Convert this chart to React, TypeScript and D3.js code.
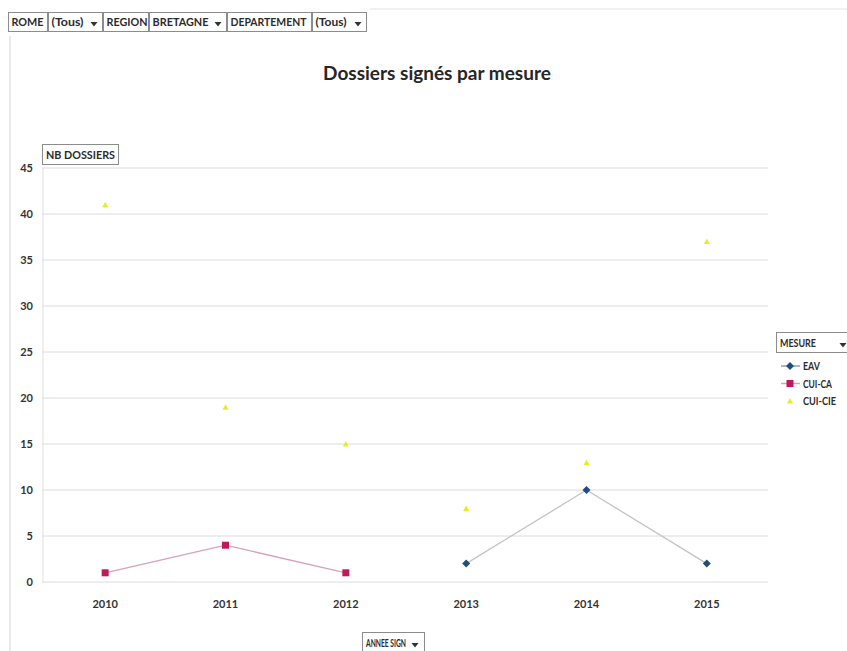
import React from "react";
import * as d3 from "d3";

const years = ["2010", "2011", "2012", "2013", "2014", "2015"];
const eav: (number | null)[] = [null, null, null, 2, 10, 2];
const cuiCa: (number | null)[] = [1, 4, 1, null, null, null];
const cuiCie: (number | null)[] = [41, 19, 15, 8, 13, 37];
const yTicks = [0, 5, 10, 15, 20, 25, 30, 35, 40, 45];
const filters = [
  { label: "ROME", arrow: false },
  { label: "(Tous)", arrow: true },
  { label: "REGION", arrow: false },
  { label: "BRETAGNE", arrow: true },
  { label: "DEPARTEMENT", arrow: false },
  { label: "(Tous)", arrow: true },
];
const filterWidths = [39, 54, 45, 77, 84, 54];
const filterTextLen = [32, 32, 41, 56, 76, 31];
const legendItems = ["EAV", "CUI-CA", "CUI-CIE"];
const legendTextLen = [17, 29, 33];

const W = 847;
const H = 651;
const FONT = "Lato, 'Open Sans', sans-serif";

export default function App() {
  const x = d3.scaleBand<string>().domain(years).range([45, 767]);
  const y = d3.scaleLinear().domain([0, 45]).range([582, 168]);
  const cx = (d: string) => (x(d) as number) + x.bandwidth() / 2;

  const mkLine = (vals: (number | null)[]) =>
    d3
      .line<number | null>()
      .defined((d) => d !== null)
      .x((_, i) => cx(years[i]))
      .y((d) => y(d as number))(vals) as string;

  let fx = 8;
  const filterBoxes = filters.map((f, i) => {
    const bx = fx;
    fx += filterWidths[i] + 1;
    return { ...f, x: bx, w: filterWidths[i], tl: filterTextLen[i] };
  });

  const arrow = (ax: number, ay: number) => (
    <path d={`M${ax - 3.5},${ay - 2} L${ax + 3.5},${ay - 2} L${ax},${ay + 2.5} Z`} fill="#333" />
  );

  const diamond = (px: number, py: number, c: string, k: string) => (
    <path key={k} d={`M${px},${py - 4} L${px + 4},${py} L${px},${py + 4} L${px - 4},${py} Z`} fill={c} />
  );
  const square = (px: number, py: number, c: string, k: string) => (
    <rect key={k} x={px - 3.5} y={py - 3.5} width={7} height={7} fill={c} />
  );
  const tri = (px: number, py: number, c: string, k: string) => (
    <path key={k} d={`M${px},${py - 3} L${px + 3},${py + 2.5} L${px - 3},${py + 2.5} Z`} fill={c} />
  );

  const EAV_C = "#1f4e79";
  const CA_C = "#c2185b";
  const CIE_C = "#e4ef1c";

  const lbl = (tx: number, ty: number, s: string, len: number) => (
    <text
      x={tx}
      y={ty}
      fontSize={11}
      fontWeight={700}
      fill="#2b2b2b"
      textLength={len}
      lengthAdjust="spacingAndGlyphs"
    >
      {s}
    </text>
  );

  return (
    <svg width={W} height={H} style={{ position: "absolute", left: 0, top: 0 }} fontFamily={FONT}>
      <rect width={W} height={H} fill="#fff" />
      {/* chart border */}
      <line x1={370} x2={W} y1={9} y2={9} stroke="#e3e3e3" />
      <line x1={10} x2={10} y1={36} y2={H} stroke="#d6d6d6" />

      {/* filter bar */}
      {filterBoxes.map((f, i) => (
        <g key={i}>
          <rect x={f.x + 0.5} y={12.5} width={f.w} height={19} fill="#fff" stroke="#8c8c8c" />
          {lbl(f.x + 3.5, 26, f.label, f.tl)}
          {f.arrow && arrow(f.x + f.w - 8, 24)}
        </g>
      ))}

      {/* title */}
      <text x={437} y={80} textAnchor="middle" fontSize={19} fontWeight={700} fill="#262626">
        Dossiers signés par mesure
      </text>

      {/* gridlines */}
      {yTicks.map((t) => (
        <g key={t}>
          <line x1={42} x2={768} y1={y(t)} y2={y(t)} stroke="#dcdcdc" />
          <text x={33} y={y(t) + 4} textAnchor="end" fontSize={11} fontWeight={700} fill="#333">
            {t}
          </text>
        </g>
      ))}
      <line x1={43} x2={43} y1={y(45)} y2={y(0)} stroke="#e0e0e0" />

      {/* x labels */}
      {years.map((yr) => (
        <text key={yr} x={cx(yr)} y={608} textAnchor="middle" fontSize={11} fontWeight={700} fill="#333">
          {yr}
        </text>
      ))}

      {/* y label box */}
      <rect x={42.5} y={144.5} width={76} height={20} fill="#fff" stroke="#8c8c8c" />
      {lbl(46, 158.5, "NB DOSSIERS", 69)}

      {/* x label box */}
      <rect x={362.5} y={632.5} width={62} height={20} fill="#fff" stroke="#8c8c8c" />
      {lbl(366, 646.5, "ANNEE SIGN", 40)}
      {arrow(415, 645)}

      {/* series */}
      <path d={mkLine(eav)} fill="none" stroke="#c4c4c4" strokeWidth={1.3} />
      <path d={mkLine(cuiCa)} fill="none" stroke="#d8a1b9" strokeWidth={1.3} />
      {eav.map((v, i) => (v === null ? null : diamond(cx(years[i]), y(v), EAV_C, "e" + i)))}
      {cuiCa.map((v, i) => (v === null ? null : square(cx(years[i]), y(v), CA_C, "c" + i)))}
      {cuiCie.map((v, i) => (v === null ? null : tri(cx(years[i]), y(v), CIE_C, "y" + i)))}

      {/* legend */}
      <rect x={776.5} y={332.5} width={75} height={20} fill="#fff" stroke="#8c8c8c" />
      {lbl(780, 346.5, "MESURE", 36)}
      {arrow(843, 345)}
      {legendItems.map((name, i) => {
        const ly = 366 + i * 17.5;
        return (
          <g key={name}>
            {i === 0 && <line x1={781} x2={800} y1={ly} y2={ly} stroke="#8da0b8" strokeWidth={1.5} />}
            {i === 1 && <line x1={781} x2={800} y1={ly} y2={ly} stroke="#d8a1b9" strokeWidth={1.5} />}
            {i === 0 && diamond(790, ly, EAV_C, "le")}
            {i === 1 && square(790, ly, CA_C, "lc")}
            {i === 2 && tri(790, ly, CIE_C, "ly")}
            {lbl(803, ly + 4, name, legendTextLen[i])}
          </g>
        );
      })}
    </svg>
  );
}
